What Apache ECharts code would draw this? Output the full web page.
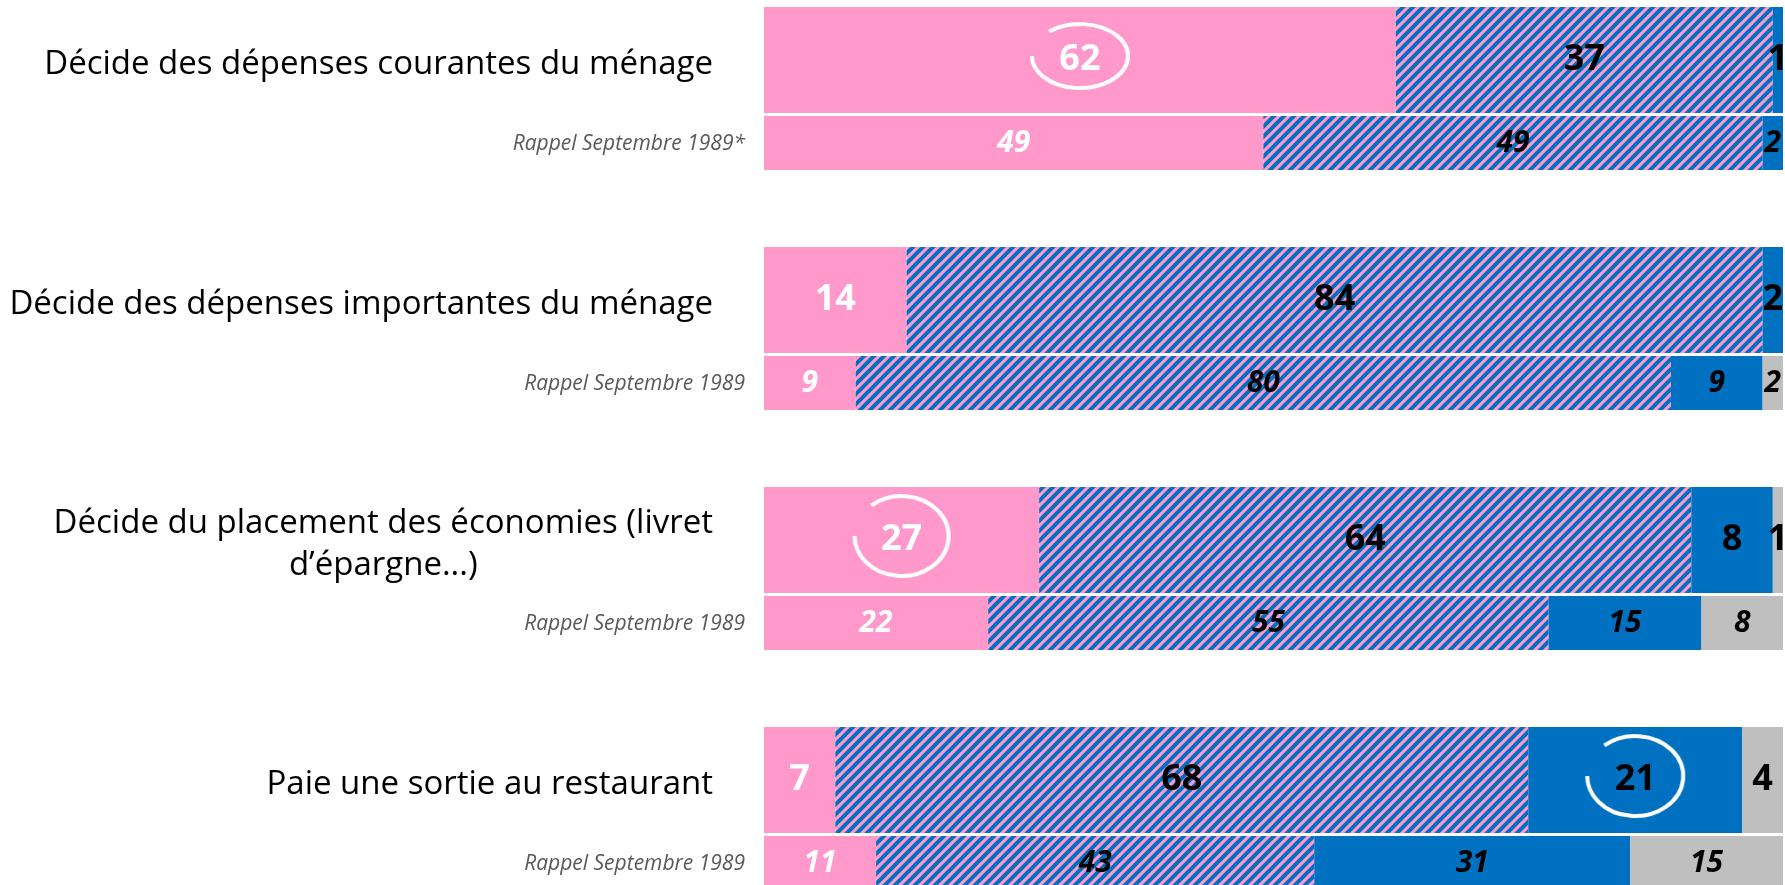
<!DOCTYPE html>
<html>
<head>
<meta charset="utf-8">
<script src="https://cdn.jsdelivr.net/npm/echarts@6/dist/echarts.min.js"></script>
<style>
  html, body { margin: 0; padding: 0; background: #fff; }
  #main { width: 1785px; height: 885px; }
</style>
</head>
<body>
<div id="main"></div>
<script>
// libellés
const questions = [
  'Décide des dépenses courantes du ménage',
  'Décide des dépenses importantes du ménage',
  'Décide du placement des économies (livret\nd’épargne...)',
  'Paie une sortie au restaurant'
];
const rappelLabels = [
  'Rappel Septembre 1989*',
  'Rappel Septembre 1989',
  'Rappel Septembre 1989',
  'Rappel Septembre 1989'
];

// aujourd'hui
const femme = [62, 14, 27, 7];
const lesDeux = [37, 84, 64, 68];
const homme = [1, 2, 8, 21];
const nsp = [0, 0, 1, 4];

// rappel septembre 1989
const femme89 = [49, 9, 22, 11];
const lesDeux89 = [49, 80, 55, 43];
const homme89 = [2, 9, 15, 31];
const nsp89 = [0, 2, 8, 15];

// valeurs entourées : [serie, ligne]
const circled = [['femme', 0], ['femme', 2], ['homme', 3]];

const PINK = '#FF99CC';
const BLUE = '#0070C0';
const GREY = '#BFBFBF';
const FONT = 'Open Sans';

// hachures bleu/rose
function hatch() {
  const c = document.createElement('canvas');
  c.width = c.height = 10;
  const ctx = c.getContext('2d');
  ctx.fillStyle = PINK;
  ctx.fillRect(0, 0, 10, 10);
  ctx.strokeStyle = BLUE;
  ctx.lineWidth = 4;
  [0, 10, 20].forEach(k => {
    ctx.beginPath();
    ctx.moveTo(-2, k + 2);
    ctx.lineTo(k + 2, -2);
    ctx.stroke();
  });
  return c;
}

// cercle ouvert blanc autour d'un chiffre
function arc(rx, ry) {
  const w = Math.round(2 * rx + 10), h = Math.round(2 * ry + 18);
  const c = document.createElement('canvas');
  c.width = w; c.height = h;
  const ctx = c.getContext('2d');
  ctx.strokeStyle = '#fff';
  ctx.lineWidth = 4;
  ctx.beginPath();
  ctx.ellipse(w / 2, h / 2 - 4, rx, ry, 0, -130 * Math.PI / 180, Math.PI);
  ctx.stroke();
  return { image: c, w, h };
}
const arcShapes = { 0: arc(48, 32), 2: arc(47, 40), 3: arc(48, 40) };

function bar(key, data, stack, color, textColor) {
  const main = stack === 'main';
  const rich = {};
  circled.filter(d => d[0] === key).forEach(d => {
    const a = arcShapes[d[1]];
    rich['h' + d[1]] = {
      backgroundColor: { image: a.image },
      width: a.w, height: a.h, align: 'center', verticalAlign: 'middle',
      fontSize: 36, fontWeight: 'bold', fontFamily: FONT, color: textColor
    };
  });
  return {
    name: key,
    type: 'bar',
    stack: stack,
    data: data,
    barWidth: main ? 106 : 54,
    barGap: '2.8%',
    itemStyle: { color: color },
    label: {
      show: true,
      position: 'inside',
      color: textColor,
      fontFamily: FONT,
      fontWeight: 'bold',
      fontStyle: main ? 'normal' : 'italic',
      fontSize: main ? 36 : 30,
      formatter: p => {
        if (!p.value) return '';
        if (main && rich['h' + p.dataIndex]) return '{h' + p.dataIndex + '|' + p.value + '}';
        return String(p.value);
      },
      rich: rich
    },
    emphasis: { disabled: true }
  };
}

const hatchFill = { image: hatch(), repeat: 'repeat' };

const chart = echarts.init(document.getElementById('main'));
chart.setOption({
  animation: false,
  grid: { left: 764, right: 2, top: -31.5, height: 960, outerBoundsMode: 'none' },
  xAxis: { type: 'value', min: 0, max: 100, show: false },
  yAxis: [
    {
      type: 'category',
      data: questions,
      inverse: true,
      axisLine: { show: false },
      axisTick: { show: false },
      axisLabel: {
        margin: 51,
        padding: [0, 0, 47, 0],
        formatter: v => v.split('\n').map(s => '{q|' + s + '}').join('\n'),
        rich: { q: { fontSize: 33, lineHeight: 42, align: 'center', fontFamily: FONT, color: '#000' } }
      }
    },
    {
      type: 'category',
      data: rappelLabels,
      inverse: true,
      position: 'left',
      axisLine: { show: false },
      axisTick: { show: false },
      axisLabel: {
        margin: 19,
        padding: [111, 0, 0, 0],
        formatter: v => '{r|' + v + '}',
        rich: { r: { fontSize: 21, lineHeight: 28, fontStyle: 'italic', fontFamily: FONT, color: '#595959' } }
      }
    }
  ],
  series: [
    bar('femme', femme, 'main', PINK, '#fff'),
    bar('lesDeux', lesDeux, 'main', hatchFill, '#000'),
    bar('homme', homme, 'main', BLUE, '#000'),
    bar('nsp', nsp, 'main', GREY, '#000'),
    bar('femme89', femme89, 'rappel', PINK, '#fff'),
    bar('lesDeux89', lesDeux89, 'rappel', hatchFill, '#000'),
    bar('homme89', homme89, 'rappel', BLUE, '#000'),
    bar('nsp89', nsp89, 'rappel', GREY, '#000')
  ]
});
</script>
</body>
</html>
